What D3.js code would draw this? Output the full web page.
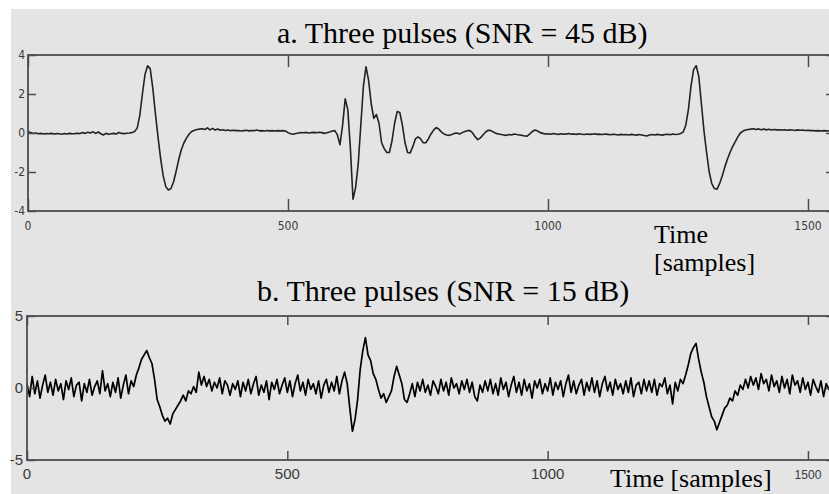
<!DOCTYPE html>
<html>
<head>
<meta charset="utf-8">
<script src="https://cdn.jsdelivr.net/npm/d3@7"></script>
<style>
  html, body { margin: 0; padding: 0; background: #fff; }
  svg { display: block; }
</style>
</head>
<body>
<div id="chart"></div>
<script>
// sample spacing of the arrays below (samples)
var sampleStep = 5;
var xTicks = [0, 500, 1000, 1500];

var titleA = "a. Three pulses (SNR = 45 dB)";
var titleB = "b. Three pulses (SNR = 15 dB)";
var topYTicks = [-4, -2, 0, 2, 4];
var bottomYTicks = [-5, 0, 5];

// panel a, read every 5 samples from 0 to 1560
var cleanSignal = [
  0.08, 0.02, -0.03, 0.00, -0.04, -0.02, -0.05, -0.03, -0.04, -0.02,
  -0.05, -0.03, -0.04, -0.06, -0.03, -0.05, -0.02, -0.04, -0.03, -0.01,
  -0.03, 0.02, -0.02, 0.04, 0.00, 0.06, -0.02, 0.05, -0.04, -0.10,
  -0.02, -0.06, -0.04, -0.02, -0.05, 0.03, -0.02, -0.03, -0.01, 0.00,
  0.02, 0.08, 0.25, 0.90, 2.00, 3.00, 3.45, 3.30, 2.30, 1.00,
  -0.20, -1.30, -2.20, -2.75, -2.92, -2.85, -2.50, -1.95, -1.35, -0.85,
  -0.50, -0.25, -0.05, 0.08, 0.14, 0.18, 0.20, 0.22, 0.18, 0.26,
  0.16, 0.24, 0.15, 0.20, 0.14, 0.17, 0.13, 0.15, 0.12, 0.14,
  0.12, 0.13, 0.10, 0.12, 0.14, 0.11, 0.13, 0.12, 0.15, 0.11,
  0.12, 0.10, 0.13, 0.11, 0.12, 0.10, 0.12, 0.11, 0.12, 0.10,
  0.02, -0.04, -0.06, -0.03, 0.00, 0.02, 0.01, 0.03, 0.00, 0.02,
  0.03, 0.01, 0.04, 0.02, -0.02, 0.01, 0.05, 0.10, 0.12, -0.10,
  -0.60, 0.40, 1.75, 1.20, -0.80, -3.40, -2.80, -1.60, 0.40, 2.40,
  3.40, 2.70, 1.50, 0.75, 0.95, 0.50, -0.50, -0.80, -1.00, -1.00,
  -0.40, 0.50, 1.10, 1.05, 0.40, -0.50, -1.00, -1.02, -0.70, -0.30,
  -0.20, -0.30, -0.50, -0.50, -0.30, -0.05, 0.15, 0.28, 0.20, 0.05,
  -0.05, -0.10, -0.12, -0.08, -0.02, 0.00, -0.05, 0.02, 0.08, 0.12,
  0.12, 0.00, -0.20, -0.34, -0.25, -0.10, 0.05, 0.14, 0.12, 0.05,
  -0.02, -0.05, -0.08, -0.10, -0.12, -0.08, -0.10, -0.05, -0.08, -0.10,
  -0.12, -0.15, -0.16, -0.05, 0.08, 0.15, 0.10, 0.02, -0.02, -0.05,
  -0.04, -0.06, -0.03, -0.05, -0.07, -0.04, -0.06, -0.05, -0.03, -0.06,
  -0.05, -0.07, -0.04, -0.06, -0.08, -0.05, -0.07, -0.06, -0.04, -0.07,
  -0.06, -0.08, -0.05, -0.07, -0.09, -0.06, -0.08, -0.10, -0.07, -0.09,
  -0.08, -0.10, -0.07, -0.09, -0.11, -0.08, -0.10, -0.13, -0.15, -0.10,
  -0.08, -0.10, -0.07, -0.09, -0.11, -0.08, -0.06, -0.09, -0.05, -0.08,
  -0.06, -0.03, 0.05, 0.40, 1.20, 2.40, 3.25, 3.45, 2.90, 1.50,
  0.10, -1.00, -2.00, -2.60, -2.85, -2.88, -2.60, -2.20, -1.75, -1.35,
  -1.00, -0.70, -0.45, -0.20, 0.00, 0.10, 0.15, 0.18, 0.20, 0.22,
  0.18, 0.21, 0.17, 0.20, 0.16, 0.19, 0.15, 0.18, 0.16, 0.17,
  0.15, 0.17, 0.14, 0.16, 0.15, 0.13, 0.16, 0.14, 0.15, 0.13,
  0.14, 0.12, 0.13, 0.11, 0.12, 0.10, 0.12, 0.11, 0.10, 0.11,
  0.10, 0.11, 0.09
];

// panel b, same sampling
var noisySignal = [
  0.3, -0.6, 0.8, -0.4, 0.5, -0.7, 0.2, 0.9, -0.3, 0.4,
  -0.5, 0.6, -0.2, 0.3, -0.8, 0.5, -0.1, 0.7, -0.6, 0.2,
  0.4, -0.9, 0.3, -0.3, 0.6, -0.5, 0.1, 0.5, -0.4, 1.2,
  -0.2, 0.3, -0.6, 0.4, -0.3, 0.7, -0.7, 0.2, 0.9, -0.4,
  0.5, 0.1, 0.9, 1.4, 2.0, 2.3, 2.6, 2.1, 1.7, 0.6,
  -0.8, -1.3, -1.9, -2.3, -2.1, -2.5, -1.8, -1.5, -1.2, -0.9,
  -0.5, -0.9, -0.2, -0.4, 0.1, -0.3, 1.1, 0.2, 0.8, 0.1,
  0.6, -0.2, 0.4, 0.0, 0.7, -0.4, 0.5, 0.2, -0.5, 0.3,
  -0.1, 0.5, -0.6, 0.4, -0.2, 0.6, -0.4, 0.3, 0.8, -0.5,
  0.2, -0.3, 0.5, -0.8, 0.4, -0.1, 0.6, -0.4, 0.2, 0.7,
  -0.3, 0.5, -0.6, 0.3, 0.9, -0.2, 0.4, -0.5, 0.6, -0.1,
  0.3, -0.4, 0.5, -0.7, 0.2, 0.6, -0.3, 0.4, -0.2, 0.8,
  -0.4, 0.5, 1.1, 0.3, -1.4, -3.0, -2.2, -0.8, 1.3, 2.6,
  3.5, 2.3, 1.9, 1.0, 0.6, -0.1, -0.7, -0.4, -1.0, -0.6,
  -0.2, 0.8, 1.5, 0.9, 0.3, -0.8, -1.0, -0.4, 0.3, -0.6,
  0.4, -0.2, 0.6, -0.3, 0.2, -0.5, 0.5, 0.1, -0.4, 0.6,
  -0.2, 0.4, -0.5, 0.7, 0.0, 0.3, -0.4, 0.5, -0.1, 0.6,
  -0.3, 0.4, -0.6, -0.9, 0.2, -0.3, 0.5, -0.2, 0.6, -0.4,
  0.3, -0.5, 0.7, -0.1, 0.4, -0.6, 0.2, 0.8, -0.3, 0.4,
  -0.5, 0.6, -0.2, 0.3, -0.7, 0.5, 0.0, 0.6, -0.4, 0.3,
  -0.2, 0.7, -0.5, 0.4, -0.1, 0.5, -0.6, 0.3, 0.9, -0.3,
  0.5, -0.4, 0.2, 0.6, -0.5, 0.4, -0.2, 0.7, -0.3, 0.5,
  -0.6, 0.3, 0.8, -0.2, 0.4, -0.5, 0.6, -0.1, 0.3, -0.4,
  0.5, -0.3, 0.7, -0.6, 0.2, 0.4, -0.4, 0.6, -0.2, 0.5,
  -0.3, 0.6, -0.5, 0.3, 0.1, 0.7, -0.4, 0.2, -1.1, 0.4,
  -0.2, 0.6, 0.3, 0.9, 1.6, 2.4, 2.8, 3.1, 2.0, 1.1,
  0.4, -0.6, -1.3, -2.0, -2.3, -2.9, -2.4, -1.9, -1.4, -1.2,
  -0.7, -0.9, -0.2, -0.5, 0.2, -0.1, 0.6, 0.0, 0.8, 0.2,
  0.7, -0.1, 1.0, 0.3, 0.6, -0.2, 0.9, 0.1, 0.5, -0.3,
  0.8, 0.0, 0.6, -0.4, 0.9, 0.2, 0.5, -0.3, 0.7, -0.1,
  0.4, -0.5, 0.6, 0.1, -0.3, 0.5, -0.6, 0.3, -0.1, 0.4,
  -0.4, 0.3, -0.2
];

var width = 829, height = 494;
var frameColor = "#4d4d4d";
var serif = "'Liberation Serif', 'Times New Roman', serif";
var narrow = "'Liberation Sans Narrow', 'DejaVu Sans Condensed', sans-serif";
var sans = "'Liberation Sans', Arial, sans-serif";

var svg = d3.select("#chart").append("svg")
  .attr("width", width)
  .attr("height", height);

svg.append("rect").attr("width", width).attr("height", height).attr("fill", "#fff");
svg.append("rect")
  .attr("x", 11).attr("y", 9)
  .attr("width", width - 11).attr("height", height - 9)
  .attr("fill", "#e4e4e4");

function drawPanel(opt) {
  var x = d3.scaleLinear().domain([0, 1550]).range([opt.left, opt.right]);
  var y = d3.scaleLinear().domain(opt.yDomain).range([opt.bottom, opt.top]);
  var g = svg.append("g");

  var line = d3.line()
    .x(function(d, i) { return x(i * sampleStep); })
    .y(function(d) { return y(d); });

  g.append("path")
    .datum(opt.values)
    .attr("d", line)
    .attr("fill", "none")
    .attr("stroke", opt.lineColor)
    .attr("stroke-width", opt.lineWidth)
    .attr("stroke-linejoin", "round");

  // inward ticks on all four sides
  var axes = [
    [d3.axisBottom(x).tickValues(xTicks).tickSize(-opt.xTick), "translate(0," + opt.bottom + ")"],
    [d3.axisTop(x).tickValues(xTicks).tickSize(-opt.xTick), "translate(0," + opt.top + ")"],
    [d3.axisLeft(y).tickValues(opt.yTicks).tickSize(-opt.yTick), "translate(" + opt.left + ",0)"],
    [d3.axisRight(y).tickValues(opt.yTicks).tickSize(-opt.yTick), "translate(" + opt.right + ",0)"]
  ];
  axes.forEach(function(a) {
    var ag = g.append("g").attr("transform", a[1]).call(a[0]);
    ag.select(".domain").remove();
    ag.selectAll("text").remove();
    ag.selectAll("line").attr("stroke", frameColor).attr("stroke-width", 1.5);
  });

  g.append("rect")
    .attr("x", opt.left).attr("y", opt.top)
    .attr("width", opt.right - opt.left).attr("height", opt.bottom - opt.top)
    .attr("fill", "none")
    .attr("stroke", frameColor)
    .attr("stroke-width", 1.8);

  g.selectAll(".xlab")
    .data(xTicks)
    .enter().append("text")
    .attr("x", function(d) { return x(d); })
    .attr("y", opt.bottom + opt.xLabelGap)
    .attr("text-anchor", "middle")
    .attr("font-family", opt.labelFont)
    .attr("font-size", function(d) { return d === 1500 ? opt.lastLabelSize : opt.labelSize; })
    .attr("fill", "#3a3a3a")
    .text(function(d) { return d; });

  g.selectAll(".ylab")
    .data(opt.yTicks)
    .enter().append("text")
    .attr("x", opt.left - opt.yLabelGap)
    .attr("y", function(d) { return y(d); })
    .attr("dy", "0.36em")
    .attr("text-anchor", "end")
    .attr("font-family", opt.labelFont)
    .attr("font-size", opt.labelSize)
    .attr("fill", "#3a3a3a")
    .text(function(d) { return d; });
}

drawPanel({
  values: cleanSignal, yDomain: [-4, 4], yTicks: topYTicks,
  left: 28, right: 834, top: 55, bottom: 211,
  xTick: 12, yTick: 8, lineColor: "#222", lineWidth: 1.6,
  labelFont: narrow, labelSize: 12, lastLabelSize: 12,
  xLabelGap: 19, yLabelGap: 3
});

drawPanel({
  values: noisySignal, yDomain: [-5, 5], yTicks: bottomYTicks,
  left: 27, right: 834, top: 316, bottom: 460,
  xTick: 9, yTick: 8, lineColor: "#000", lineWidth: 1.7,
  labelFont: sans, labelSize: 15, lastLabelSize: 12,
  xLabelGap: 19, yLabelGap: 4
});

svg.append("text").attr("x", 277).attr("y", 43)
  .attr("font-family", serif).attr("font-size", 30).attr("fill", "#000")
  .text(titleA);
svg.append("text").attr("x", 257).attr("y", 301)
  .attr("font-family", serif).attr("font-size", 30).attr("fill", "#000")
  .text(titleB);

svg.append("text").attr("x", 654).attr("y", 243)
  .attr("font-family", serif).attr("font-size", 26).attr("fill", "#000")
  .text("Time");
svg.append("text").attr("x", 654).attr("y", 271)
  .attr("font-family", serif).attr("font-size", 26).attr("fill", "#000")
  .text("[samples]");
svg.append("text").attr("x", 610).attr("y", 487)
  .attr("font-family", serif).attr("font-size", 26).attr("fill", "#000")
  .text("Time [samples]");
</script>
</body>
</html>
